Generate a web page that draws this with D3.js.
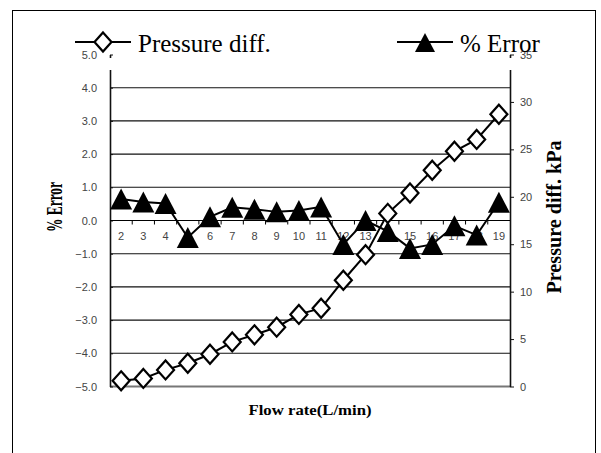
<!DOCTYPE html>
<html>
<head>
<meta charset="utf-8">
<script src="https://cdn.jsdelivr.net/npm/d3@7"></script>
<style>
  html, body { margin: 0; padding: 0; background: #fff; }
  svg { display: block; }
</style>
</head>
<body>
<svg id="chart" width="601" height="453"></svg>
<script>
const categories = ["2","3","4","5","6","7","8","9","10","11","12","13","14","15","16","17","18","19"];
const pressureDiff = [0.6, 0.85, 1.75, 2.45, 3.4, 4.7, 5.45, 6.25, 7.6, 8.25, 11.2, 13.9, 18.25, 20.4, 22.8, 24.8, 26.05, 28.7];
const percentError = [0.65, 0.56, 0.51, -0.51, 0.11, 0.40, 0.34, 0.26, 0.30, 0.41, -0.72, 0.0, -0.33, -0.84, -0.72, -0.16, -0.44, 0.55];
const errorTicks = [-5, -4, -3, -2, -1, 0, 1, 2, 3, 4, 5];
const pressureTicks = [0, 5, 10, 15, 20, 25, 30, 35];
const seriesNames = ["Pressure diff.", "% Error"];

const svg = d3.select("#chart");
const L = 110, R = 510, T = 54.5, B = 386.5;

const x = d3.scaleBand().domain(categories).range([L, R]);
const yL = d3.scaleLinear().domain([-5, 5]).range([B, T]);
const yR = d3.scaleLinear().domain([0, 35]).range([B, T]);
const cx = d => x(d) + x.bandwidth() / 2;

// outer frame
svg.append("rect").attr("x", 12.5).attr("y", 10.5).attr("width", 583).attr("height", 460)
  .attr("fill", "none").attr("stroke", "#000").attr("stroke-width", 1);

// gridlines
svg.append("g").selectAll("line").data(errorTicks.filter(v => v !== 0 && v !== 5))
  .join("line")
  .attr("x1", L).attr("x2", R)
  .attr("y1", d => yL(d)).attr("y2", d => yL(d))
  .attr("stroke", d => d === -5 ? "#777" : "#111")
  .attr("stroke-width", d => d === -5 ? 2 : 1.1);

const tickFont = "'Liberation Sans', Arial, sans-serif";

// left axis
const gl = svg.append("g").attr("transform", `translate(${L},0)`)
  .call(d3.axisLeft(yL).tickValues(errorTicks).tickFormat(d3.format(".1f")).tickSizeInner(-3).tickSizeOuter(0).tickPadding(13));
gl.select(".domain").attr("stroke", "#111").attr("stroke-width", 1.6);
gl.selectAll(".tick line").attr("stroke", "#111");
gl.selectAll("text").attr("font-family", tickFont).attr("font-size", 11).attr("fill", "#444");

// right axis
const gr = svg.append("g").attr("transform", `translate(${R},0)`)
  .call(d3.axisRight(yR).tickValues(pressureTicks).tickSizeInner(4).tickSizeOuter(0).tickPadding(6));
gr.select(".domain").attr("stroke", "#111").attr("stroke-width", 1.6);
gr.selectAll(".tick line").attr("stroke", "#111");
gr.selectAll("text").attr("font-family", tickFont).attr("font-size", 11).attr("fill", "#444");

// category axis at zero
const y0 = yL(0);
svg.append("line").attr("x1", L).attr("x2", R).attr("y1", y0).attr("y2", y0)
  .attr("stroke", "#000").attr("stroke-width", 1.2);
svg.append("g").selectAll("line").data(categories.slice(1))
  .join("line")
  .attr("x1", d => x(d)).attr("x2", d => x(d))
  .attr("y1", y0).attr("y2", y0 + 4)
  .attr("stroke", "#000");
const gx = svg.append("g").attr("transform", `translate(0,${y0})`)
  .call(d3.axisBottom(x).tickSize(0).tickPadding(12));
gx.select(".domain").remove();
gx.selectAll("text").attr("font-family", tickFont).attr("font-size", 11).attr("fill", "#444");

// legend background gap over axes
svg.append("rect").attr("x", 100).attr("y", 58).attr("width", 420).attr("height", 12).attr("fill", "#fff");

// series: % Error (triangles)
const triPath = "M0,-10.5L11,10.5L-11,10.5Z";
const diaPath = "M0,-9.5L8.5,0L0,9.5L-8.5,0Z";

svg.append("path").datum(percentError)
  .attr("fill", "none").attr("stroke", "#000").attr("stroke-width", 2)
  .attr("d", d3.line().x((d, i) => cx(categories[i])).y(d => yL(d)));
svg.append("g").selectAll("path").data(percentError).join("path")
  .attr("transform", (d, i) => `translate(${cx(categories[i])},${yL(d)})`)
  .attr("d", triPath).attr("fill", "#000");

// series: Pressure diff (diamonds)
svg.append("path").datum(pressureDiff)
  .attr("fill", "none").attr("stroke", "#000").attr("stroke-width", 2)
  .attr("d", d3.line().x((d, i) => cx(categories[i])).y(d => yR(d)));
svg.append("g").selectAll("path").data(pressureDiff).join("path")
  .attr("transform", (d, i) => `translate(${cx(categories[i])},${yR(d)})`)
  .attr("d", diaPath).attr("fill", "#fff").attr("stroke", "#000").attr("stroke-width", 2.2);

// legend
const legFont = "'Liberation Serif', 'Times New Roman', serif";
svg.append("line").attr("x1", 75).attr("x2", 131).attr("y1", 42).attr("y2", 42).attr("stroke", "#000").attr("stroke-width", 2);
svg.append("path").attr("transform", "translate(103,42)").attr("d", diaPath)
  .attr("fill", "#fff").attr("stroke", "#000").attr("stroke-width", 2.2);
svg.append("text").attr("x", 138).attr("y", 52).attr("font-family", legFont).attr("font-size", 25)
  .attr("fill", "#000").text(seriesNames[0]);

svg.append("line").attr("x1", 397).attr("x2", 453).attr("y1", 42).attr("y2", 42).attr("stroke", "#000").attr("stroke-width", 2);
svg.append("path").attr("transform", "translate(425,42.5)").attr("d", "M0,-9.5L10,9.5L-10,9.5Z").attr("fill", "#000");
svg.append("text").attr("x", 460).attr("y", 52).attr("font-family", legFont).attr("font-size", 25)
  .attr("fill", "#000").text(seriesNames[1]);

// axis titles
svg.append("text").attr("transform", "translate(62,207) rotate(-90)")
  .attr("text-anchor", "middle").attr("font-family", legFont).attr("font-weight", "bold")
  .attr("font-size", 24).attr("textLength", 50).attr("lengthAdjust", "spacingAndGlyphs")
  .text("% Error");
svg.append("text").attr("transform", "translate(561,217) rotate(-90)")
  .attr("text-anchor", "middle").attr("font-family", legFont).attr("font-weight", "bold")
  .attr("font-size", 22).attr("textLength", 153).attr("lengthAdjust", "spacingAndGlyphs")
  .text("Pressure diff. kPa");
svg.append("text").attr("x", 310).attr("y", 415)
  .attr("text-anchor", "middle").attr("font-family", legFont).attr("font-weight", "bold")
  .attr("font-size", 14).attr("textLength", 123).attr("lengthAdjust", "spacingAndGlyphs")
  .text("Flow rate(L/min)");
</script>
</body>
</html>
